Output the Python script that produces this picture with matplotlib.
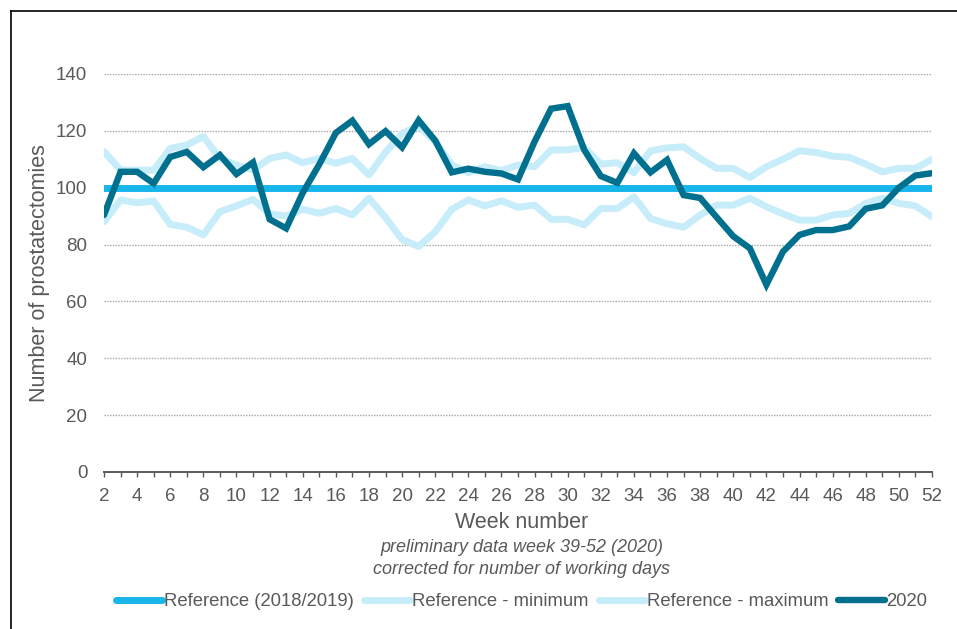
import matplotlib
matplotlib.use('Agg')
import matplotlib.pyplot as plt
from matplotlib.lines import Line2D
from matplotlib.ticker import MultipleLocator

plt.rcParams['font.family'] = ['Liberation Sans', 'DejaVu Sans']

#%% data
weeks = list(range(2, 53))

ref_level = [100] * len(weeks)

ref_max = [112.7, 106.2, 106.2, 106.2, 113.8, 115.0, 118.0, 110.3, 108.0, 106.2,
           110.3, 111.5, 108.8, 110.3, 108.6, 110.3, 104.5, 112.5, 119.1, 121.7,
           116.2, 108.0, 105.3, 107.4, 106.0, 108.0, 107.4, 113.3, 113.3, 114.2,
           108.3, 108.8, 105.3, 113.0, 114.0, 114.4, 110.3, 106.8, 106.8, 103.6,
           107.4, 110.0, 113.0, 112.4, 111.1, 110.7, 108.3, 105.6, 106.8, 106.8,
           110.0]

ref_min = [88.0, 95.7, 94.7, 95.3, 87.1, 86.1, 83.4, 91.6, 93.6, 95.9,
           90.8, 90.0, 92.4, 91.0, 92.7, 90.4, 96.3, 89.5, 81.8, 79.3,
           84.5, 92.4, 95.7, 93.6, 95.4, 93.1, 93.9, 88.9, 88.9, 86.9,
           92.7, 92.7, 96.8, 89.2, 87.3, 86.1, 90.4, 93.9, 93.9, 96.3,
           93.3, 90.8, 88.6, 88.6, 90.4, 91.0, 94.5, 96.3, 94.5, 93.6,
           89.8]

y2020 = [90.4, 105.6, 105.6, 101.5, 110.8, 112.6, 107.2, 111.5, 104.8, 108.9,
         88.9, 85.7, 98.2, 108.2, 119.3, 123.6, 115.3, 119.9, 114.2, 123.7,
         116.6, 105.4, 106.7, 105.6, 105.0, 102.9, 116.2, 127.8, 128.7, 113.3,
         104.1, 101.7, 112.1, 105.4, 109.8, 97.4, 96.4, 89.6, 82.9, 78.7,
         65.9, 77.5, 83.4, 85.1, 85.1, 86.4, 92.6, 93.8, 100.0, 104.3,
         105.1]

c_ref = '#17b5e9'
c_light = '#c6edf9'
c_dark = '#00708e'
c_txt = '#595959'

#%% figure
fig = plt.figure(figsize=(9.57, 6.29), dpi=100)
ax = fig.add_axes([104/957, 1-472/629, 828/957, 398/629])

ax.plot(weeks, ref_level, color=c_ref, lw=5, solid_capstyle='round',
        label='Reference (2018/2019)', zorder=3)
ax.plot(weeks, ref_min, color=c_light, lw=5, solid_capstyle='round',
        label='Reference - minimum', zorder=2)
ax.plot(weeks, ref_max, color=c_light, lw=5, solid_capstyle='round',
        label='Reference - maximum', zorder=2)
ax.plot(weeks, y2020, color=c_dark, lw=4.6, solid_capstyle='round',
        solid_joinstyle='miter', label='2020', zorder=4)

ax.set_xlim(2, 52)
ax.set_ylim(0, 140)
ax.xaxis.set_major_locator(MultipleLocator(2))
ax.xaxis.set_minor_locator(MultipleLocator(1))
ax.yaxis.set_major_locator(MultipleLocator(20))

ax.grid(axis='y', color='#a6a6a6', lw=1, ls=(0, (1, 1)))
ax.set_axisbelow(True)
for s in ['top', 'right', 'left']:
    ax.spines[s].set_visible(False)
ax.spines['bottom'].set_color(c_txt)
ax.spines['bottom'].set_linewidth(1.4)
ax.spines['bottom'].set_zorder(5)

ax.tick_params(axis='x', which='both', length=3.5, width=1, color=c_txt,
               labelsize=13.5, labelcolor=c_txt, pad=8)
ax.tick_params(axis='y', length=0, labelsize=13.5, labelcolor=c_txt, pad=12)

ax.set_ylabel('Number of prostatectomies', fontsize=15.5, color=c_txt)
ax.yaxis.set_label_coords(-54/828, 0.5)

fig.text(0.545, 1-523/629, 'Week number', ha='center', va='center',
         fontsize=15.5, color=c_txt)
fig.text(0.545, 1-547/629, 'preliminary data week 39-52 (2020)', ha='center',
         va='center', fontsize=13, style='italic', color=c_txt)
fig.text(0.545, 1-569/629, 'corrected for number of working days', ha='center',
         va='center', fontsize=13, style='italic', color=c_txt)

leg = fig.legend(loc='center', bbox_to_anchor=(0.545, 1-602/629), ncol=4,
                 frameon=False, fontsize=13.3, handlelength=2.5,
                 handletextpad=0.1, columnspacing=0.55, borderpad=0)
for t in leg.get_texts():
    t.set_color(c_txt)

# frame round the chart (left and top only, as in the picture)
fig.add_artist(Line2D([10.5/957, 10.5/957], [0, 1-10.5/629], color='black', lw=1.2))
fig.add_artist(Line2D([10.5/957, 1], [1-10.5/629, 1-10.5/629], color='black', lw=1.2))

fig.savefig('out.png', dpi=100)
